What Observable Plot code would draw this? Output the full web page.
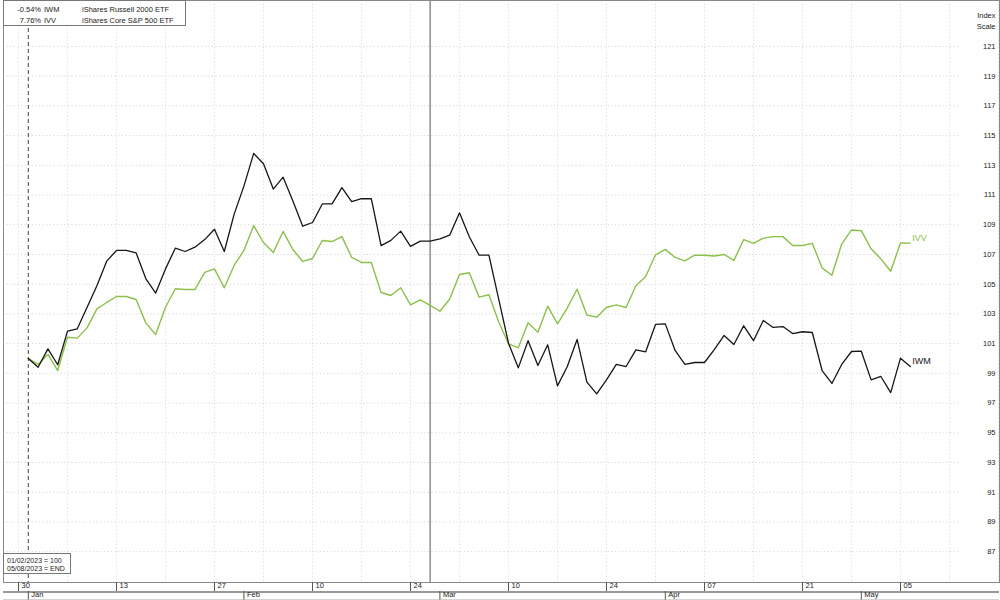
<!DOCTYPE html>
<html><head><meta charset="utf-8">
<script src="https://cdn.jsdelivr.net/npm/d3@7"></script>
<script src="https://cdn.jsdelivr.net/npm/@observablehq/plot@0.6"></script>
<style>
body{margin:0;background:#fff;font-family:"Liberation Sans",Arial,Helvetica,sans-serif;}
#wrap{position:relative;width:1000px;height:600px;overflow:hidden;}
.box{position:absolute;background:#fff;border:1px solid #777;color:#222;box-sizing:border-box;}
.box span{position:absolute;white-space:nowrap;line-height:1;}
</style></head><body><div id="wrap"></div>
<script>
// ---- data ----
const tickers = ["IWM", "IVV"];
const names = ["iShares Russell 2000 ETF", "iShares Core S&P 500 ETF"];
const changes = ["-0.54%", "7.76%"];
const colors = ["#161616", "#8cc04c"];
const baseDate = "2023-01-02", endDate = "2023-05-08", originDate = "2022-12-30";
const markerDate = "2023-02-28";
const iwm = [100.00,99.41,100.65,99.58,101.84,102.00,103.45,104.90,106.55,107.27,107.27,107.11,105.36,104.40,106.03,107.42,107.20,107.49,108.00,108.70,107.20,109.70,111.60,113.80,113.10,111.40,112.20,110.60,108.90,109.15,110.40,110.40,111.50,110.55,110.75,110.75,107.60,107.95,108.57,107.54,107.90,107.90,108.05,108.30,109.80,108.19,106.95,106.95,104.00,101.03,99.37,101.20,99.53,100.92,98.16,99.46,101.28,98.41,97.62,98.56,99.60,99.46,100.58,100.45,102.29,102.33,100.54,99.60,99.73,99.73,100.60,101.55,100.94,102.20,101.20,102.56,102.09,102.15,101.68,101.80,101.75,99.19,98.32,99.60,100.47,100.49,98.56,98.79,97.70,100.02,99.46];
const ivv = [100.00,99.60,100.27,99.19,101.43,101.37,102.06,103.34,103.77,104.17,104.17,103.97,102.38,101.62,103.45,104.69,104.64,104.64,105.80,106.03,104.76,106.26,107.27,108.95,107.80,107.13,108.55,107.33,106.53,106.73,107.94,107.87,108.20,106.80,106.46,106.46,104.44,104.24,104.76,103.61,103.95,103.57,103.18,104.00,105.65,105.77,104.13,104.29,102.45,100.99,100.72,102.40,101.77,103.52,102.33,103.41,104.66,102.93,102.78,103.43,103.61,103.43,104.89,105.52,106.98,107.34,106.80,106.57,106.95,106.95,106.90,107.00,106.60,108.00,107.75,108.10,108.20,108.20,107.60,107.60,107.75,106.10,105.60,107.70,108.65,108.60,107.38,106.70,105.87,107.78,107.76];
const yTicks = [87,89,91,93,95,97,99,101,103,105,107,109,111,113,115,117,119,121];
const weekTickDates = ["2022-12-30","2023-01-13","2023-01-27","2023-02-10","2023-02-24","2023-03-10","2023-03-24","2023-04-07","2023-04-21","2023-05-05"];
const weekTickLabels = ["30","13","27","10","24","10","24","07","21","05"];
const monthDates = ["2023-01-02","2023-02-01","2023-03-01","2023-04-03","2023-05-01"];
const monthLabels = ["Jan","Feb","Mar","Apr","May"];

// ---- weekday axis helpers ----
const parse = d3.utcParse("%Y-%m-%d");
const origin = parse(originDate);
function wd(dateStr) {
  const d = typeof dateStr === "string" ? parse(dateStr) : dateStr;
  let n = 0;
  for (let t = d3.utcDay.offset(origin, 1); t <= d; t = d3.utcDay.offset(t, 1)) {
    const g = t.getUTCDay(); if (g !== 0 && g !== 6) n++;
  }
  return n;
}
const days = d3.utcDay.range(parse(baseDate), d3.utcDay.offset(parse(endDate), 1)).filter(t => t.getUTCDay() !== 0 && t.getUTCDay() !== 6);
const rows = days.map((t, k) => ({i: wd(t), iwm: iwm[k], ivv: ivv[k]}));
const weekGrid = d3.utcFriday.range(origin, parse("2023-05-20")).map(wd);
const weekTicks = weekTickDates.map((d, k) => ({i: wd(d), label: weekTickLabels[k]}));
const months = monthDates.map((d, k) => ({i: wd(d), label: monthLabels[k]}));
const last = rows[rows.length - 1];
const endLabels = [{i: last.i, v: last.iwm, t: tickers[0], c: colors[0]}, {i: last.i, v: last.ivv, t: tickers[1], c: colors[1]}];

const yMin = 84.926, yMax = 124.09;
const plot = Plot.plot({
  width: 1000, height: 600,
  marginLeft: 3, marginRight: 1, marginTop: 0, marginBottom: 18,
  x: {domain: [-15 / 9.8, 981 / 9.8], axis: null},
  y: {domain: [yMin, yMax], axis: null},
  style: {fontFamily: "'Liberation Sans', Arial, Helvetica, sans-serif", background: "#fff", overflow: "visible"},
  marks: [
    Plot.ruleY(yTicks, {stroke: "#d6d6d6", strokeDasharray: "1.2,2.4", insetRight: 41}),
    Plot.ruleX(weekGrid, {stroke: "#dedede", strokeDasharray: "1.2,2.4"}),
    Plot.ruleX([wd(baseDate)], {stroke: "#444", strokeDasharray: "4,3"}),
    Plot.ruleX([wd(markerDate)], {stroke: "#555"}),
    Plot.line(rows, {x: "i", y: "ivv", stroke: colors[1], strokeWidth: 1.4}),
    Plot.line(rows, {x: "i", y: "iwm", stroke: colors[0], strokeWidth: 1.3}),
    Plot.text(endLabels, {x: "i", y: "v", text: "t", fill: "c", dx: 2, dy: -5, textAnchor: "start", fontSize: 9}),
    Plot.text(yTicks, {y: d => d, text: d => String(d), frameAnchor: "right", dx: -4, textAnchor: "end", fontSize: 7.5, fill: "#222"}),
    Plot.text(["Index\nScale"], {frameAnchor: "top-right", dx: -4, dy: 10, textAnchor: "end", lineAnchor: "top", lineHeight: 1.45, fontSize: 7.5, fill: "#222"}),
    Plot.frame({stroke: "#888"}),
    // axis rows
    Plot.ruleX(weekTicks, {x: "i", insetTop: 582, insetBottom: -9, stroke: "#555"}),
    Plot.text(weekTicks, {x: "i", text: "label", frameAnchor: "bottom", dy: 5, dx: 3, textAnchor: "start", fontSize: 7.5, fill: "#222"}),
    Plot.ruleY([yMin], {dy: 9.5, stroke: "#999", strokeWidth: 2}),
    Plot.ruleX(months, {x: "i", insetTop: 591, insetBottom: -18, stroke: "#555"}),
    Plot.text(months, {x: "i", text: "label", frameAnchor: "bottom", dy: 14.5, dx: 3, textAnchor: "start", fontSize: 7.5, fill: "#222"}),
    Plot.ruleY([yMin], {dy: 17.5, stroke: "#aaa"})
  ]
});
const wrap = document.getElementById("wrap");
wrap.appendChild(plot);

// legend box (top-left)
const lg = document.createElement("div");
lg.className = "box";
Object.assign(lg.style, {left: "3px", top: "0px", width: "183px", height: "26px", fontSize: "7.5px"});
tickers.forEach((t, k) => {
  const top = (4.5 + k * 11) + "px";
  const a = document.createElement("span"); a.textContent = changes[k]; Object.assign(a.style, {right: (183 - 39) + "px", top});
  const b = document.createElement("span"); b.textContent = t; Object.assign(b.style, {left: "40px", top});
  const c = document.createElement("span"); c.textContent = names[k]; Object.assign(c.style, {left: "78px", top});
  lg.append(a, b, c);
});
wrap.appendChild(lg);

// base box (bottom-left)
const bb = document.createElement("div");
bb.className = "box";
Object.assign(bb.style, {left: "3px", top: "553px", width: "68px", height: "21px", fontSize: "7px"});
const fmt = d3.utcFormat("%m/%d/%Y");
[[fmt(parse(baseDate)) + " = 100", 3], [fmt(parse(endDate)) + " = END", 11]].forEach(([s, top]) => {
  const e = document.createElement("span"); e.textContent = s; Object.assign(e.style, {left: "3px", top: top + "px"});
  bb.appendChild(e);
});
wrap.appendChild(bb);
</script>
</body></html>
